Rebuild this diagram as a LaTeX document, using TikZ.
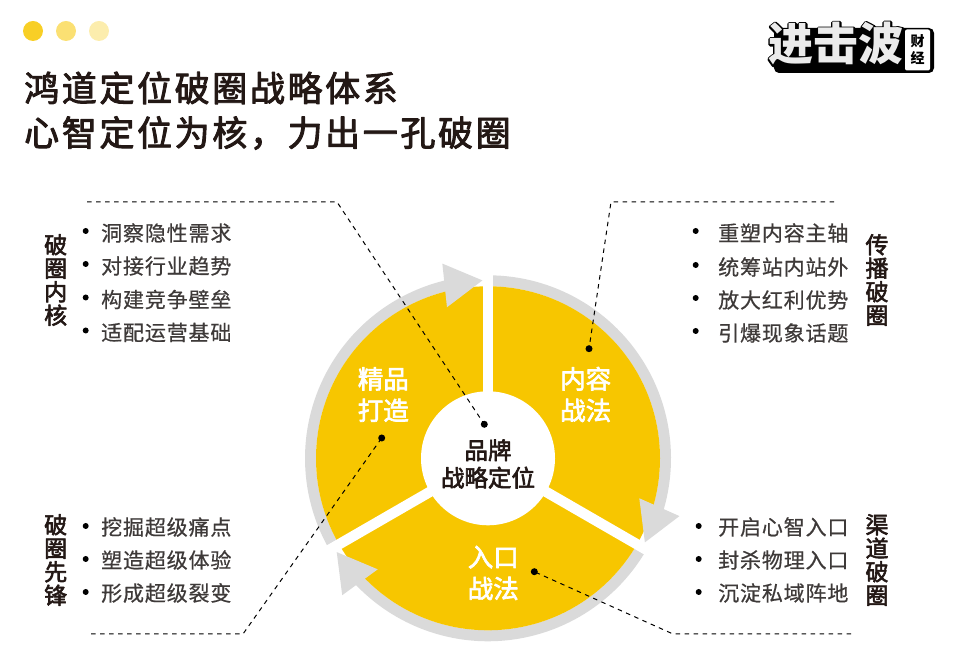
\documentclass[tikz,border=0pt]{standalone}
\usepackage{fontspec}
\setmainfont{Noto Sans CJK SC}
\newfontfamily\titlefont[LetterSpace=7.5,FakeBold=2.6]{Noto Sans CJK SC}
\newfontfamily\listfont[LetterSpace=4,FakeBold=0.6]{Noto Sans CJK SC}
\newfontfamily\sidefont[FakeBold=2.6]{Noto Sans CJK SC}
\newfontfamily\logofont[FakeBold=8]{Noto Sans CJK SC}
\definecolor{ringgray}{HTML}{DADADA}
\definecolor{coreyellow}{HTML}{F7C600}
\definecolor{inkdark}{HTML}{231815}
\definecolor{listgray}{HTML}{3E3A39}
\tikzset{
	listtext/.style={anchor=west,inner sep=0pt,text=listgray,font=\listfont\fontsize{21}{21}\selectfont},
	sidelabel/.style={align=center,inner sep=0pt,text=inkdark,font=\sidefont\fontsize{23}{23.5}\selectfont},
	wedgelabel/.style={align=center,inner sep=0pt,text=white,font=\sidefont\fontsize{25.5}{31.5}\selectfont},
	titletext/.style={anchor=west,inner sep=0pt,text=inkdark,font=\titlefont\fontsize{35}{35}\selectfont},
	leader/.style={dash pattern=on 4.5pt off 4.5pt,line width=1pt,black}
}
\begin{document}
\begin{tikzpicture}[x=1pt,y=1pt,line join=round]
	\useasboundingbox (0,0) rectangle (961,660);
	\def\cx{488};
	\def\cy{201.7};
	\path
	(\cx,\cy) coordinate (O)
	(484.3,235.7) coordinate (P1)
	(589,311.3) coordinate (P2)
	(534.3,88.3) coordinate (P3)
	(381.7,222) coordinate (P4)
	(87,458) coordinate (A1)
	(337,458) coordinate (A2)
	(834,458) coordinate (B1)
	(611,458) coordinate (B2)
	(851,26) coordinate (C1)
	(673,26) coordinate (C2)
	(91,26) coordinate (D1)
	(243,26) coordinate (D2);
	% header dots
	\fill[fill=coreyellow!85!white] (33,629) circle (10);
	\fill[fill=coreyellow!55!white] (66,629) circle (10);
	\fill[fill=coreyellow!32!white] (99,629) circle (10);
	\node[titletext] (title1) at (24,572) {鸿道定位破圈战略体系};
	\node[titletext] (title2) at (24,527) {心智定位为核，力出一孔破圈};
	% logo
	\fill[black,rounded corners=5pt] (774,587) rectangle (934,632);
	\node[inner sep=0pt,text=black,font=\logofont\bfseries\fontsize{45}{45}\selectfont] (logoback) at (836,616) {进击波};
	\node[inner sep=0pt,text=white!92!black,font=\bfseries\fontsize{45}{45}\selectfont] (logofront) at (836,616) {进击波};
	\node[fill=white,rounded corners=2pt,minimum width=25pt,minimum height=41pt,inner sep=0pt,align=center,font=\bfseries\fontsize{14}{17}\selectfont] (logobox) at (917.5,610) {财\\经};
	% ring
	\foreach \a in {0,120,240}{
		\begin{scope}[shift={(O)},rotate=\a]
			\draw[ringgray,line width=11pt] (210:177.5) arc (210:100:177.5);
		\end{scope}
	}
	\fill[coreyellow] (O) circle (172);
	\foreach \a in {90,210,330}{
		\draw[white,line width=10.4pt] (O) -- ++(\a:195);
	}
	\foreach \a in {0,120,240}{
		\begin{scope}[shift={(O)},rotate=\a]
			\fill[ringgray] (103.2:200) -- (91.8:178) -- (105.2:156.5) -- cycle;
		\end{scope}
	}
	\fill[white] (O) circle (67);
	\node[wedgelabel] (jingpin) at (383.3,265.5) {精品\\打造};
	\node[wedgelabel] (neirong) at (585.7,265.5) {内容\\战法};
	\node[wedgelabel] (rukou) at (493.3,87) {入口\\战法};
	\node[align=center,inner sep=0pt,text=inkdark,font=\sidefont\fontsize{23.5}{27.5}\selectfont] (pinpai) at (\cx,196) {品牌\\战略定位};
	% leaders
	\draw[leader] (A1)--(A2)--(P1);
	\draw[leader] (B1)--(B2)--(P2);
	\draw[leader] (C1)--(C2)--(P3);
	\draw[leader] (D1)--(D2)--(P4);
	\foreach \p in {P1,P2,P3,P4}{
		\fill[black] (\p) circle (3.5);
	}
	% lists
	\node[sidelabel] (labelA) at (55.7,380) {破\\圈\\内\\核};
	\node[sidelabel] (labelB) at (877,380) {传\\播\\破\\圈};
	\node[sidelabel] (labelC) at (55.7,100) {破\\圈\\先\\锋};
	\node[sidelabel] (labelD) at (877,100) {渠\\道\\破\\圈};
	\foreach \y/\t in {427/洞察隐性需求,394/对接行业趋势,360.5/构建竞争壁垒,327.5/适配运营基础}{
		\fill[black] (85.7,\y+2) circle (3);
		\node[listtext] at (101,\y) {\t};
	}
	\foreach \y/\t in {427/重塑内容主轴,393/统筹站内站外,360/放大红利优势,327/引爆现象话题}{
		\fill[black] (695.7,\y+2) circle (3);
		\node[listtext] at (718,\y) {\t};
	}
	\foreach \y/\t in {133/挖掘超级痛点,100/塑造超级体验,67/形成超级裂变}{
		\fill[black] (85.7,\y+1) circle (3);
		\node[listtext] at (101,\y) {\t};
	}
	\foreach \y/\t in {133/开启心智入口,100/封杀物理入口,67/沉淀私域阵地}{
		\fill[black] (698.7,\y+1) circle (3);
		\node[listtext] at (718,\y) {\t};
	}
\end{tikzpicture}
\end{document}
